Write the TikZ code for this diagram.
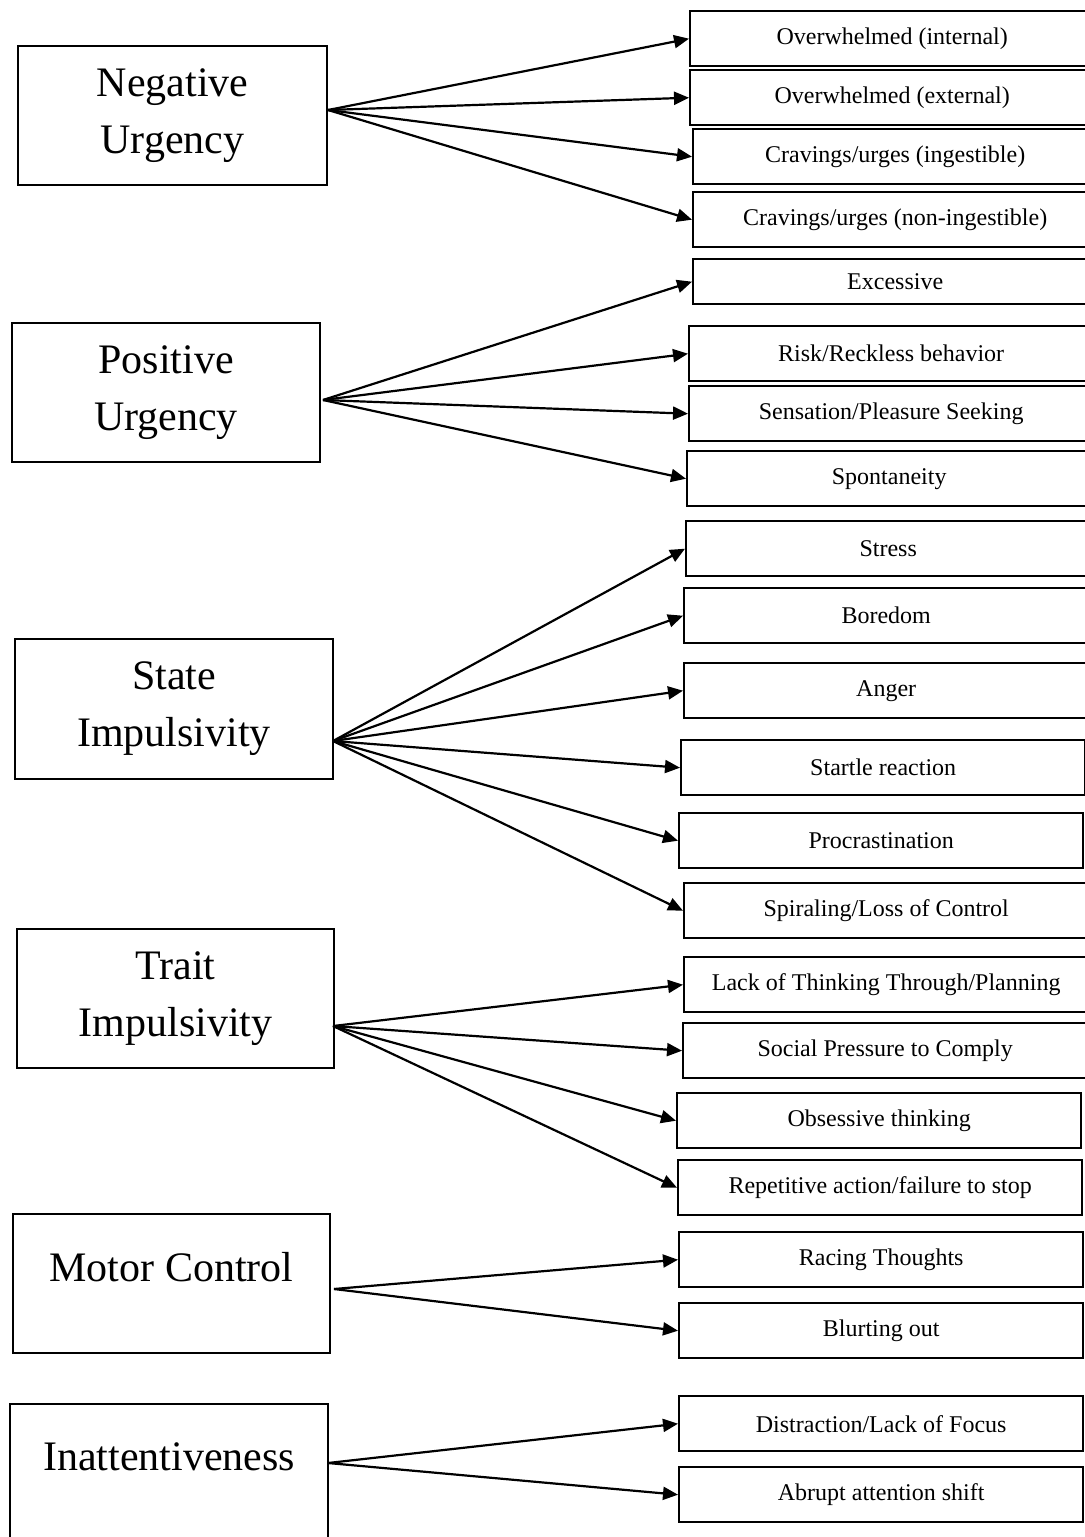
\documentclass[tikz,border=0pt]{standalone}
\usepackage{fontspec}
\setmainfont{Liberation Serif}
\usetikzlibrary{positioning,arrows.meta}

\newcommand\grande{\fontsize{21}{28.5}\selectfont}
\newcommand\chica{\fontsize{12}{14}\selectfont}

\begin{document}
\begin{tikzpicture}[x=0.5pt,y=-0.5pt,
    raiz/.style={draw,line width=1pt,anchor=north west,align=center,font=\grande,inner sep=0pt}, %cajas grandes de la izquierda
    hoja/.style={draw,line width=1.2pt,anchor=north west,font=\chica,minimum width=202pt,minimum height=27.5pt,inner sep=0pt}, %cajitas de la derecha
    flecha/.style={line width=1.1pt,-{Triangle[length=7.5pt,width=6.5pt]}}]
    %Recorte: la hoja mide lo mismo que la imagen (las cajas se salen por la derecha)
    \clip (0,0) rectangle (1085,1537);

    %Cajas de la izquierda (las grandes)
    \node[raiz,minimum width=154.5pt,minimum height=69.5pt] (neg) at (17,45) {Negative\\Urgency};
    \node[raiz,minimum width=154pt,minimum height=69.5pt] (pos) at (11,322) {Positive\\Urgency};
    \node[raiz,minimum width=159pt,minimum height=70pt] (state) at (14,638) {State\\Impulsivity};
    \node[raiz,minimum width=158.5pt,minimum height=69.5pt] (trait) at (16,928) {Trait\\Impulsivity};
    \node[raiz,minimum width=158.5pt,minimum height=69.5pt,label={[font=\grande,anchor=center,yshift=-27pt]north:Motor Control}] (motor) at (12,1213) {};
    \node[raiz,minimum width=159pt,minimum height=80pt,label={[font=\grande,anchor=center,yshift=-27pt]north:Inattentiveness}] (inatt) at (9,1403) {};

    %De donde salen los abanicos de flechas
    \coordinate (oNeg) at (328,110);
    \coordinate (oPos) at (323,400);
    \coordinate (oState) at (333,741);
    \coordinate (oTrait) at (333,1026);
    \coordinate (oMotor) at (334,1289);
    \coordinate (oInatt) at (328,1463);

    %Cajitas de la derecha
    \node[hoja] (ovint) at (689,10) {Overwhelmed (internal)};
    \node[hoja] (ovext) at (689,69) {Overwhelmed (external)};
    \node[hoja] (cravi) at (692,128) {Cravings/urges (ingestible)};
    \node[hoja] (cravn) at (692,191) {Cravings/urges (non-ingestible)};
    \node[hoja,minimum height=22.5pt] (exc) at (692,258) {Excessive};
    \node[hoja] (risk) at (688,325) {Risk/Reckless behavior};
    \node[hoja] (sens) at (688,385) {Sensation/Pleasure Seeking};
    \node[hoja] (spon) at (686,450) {Spontaneity};
    \node[hoja] (stress) at (685,520) {Stress};
    \node[hoja] (bored) at (683,587) {Boredom};
    \node[hoja] (anger) at (683,662) {Anger};
    \node[hoja] (startle) at (680,739) {Startle reaction};
    \node[hoja] (procr) at (678,812) {Procrastination};
    \node[hoja] (spiral) at (683,882) {Spiraling/Loss of Control};
    \node[hoja] (lack) at (683,956) {Lack of Thinking Through/Planning};
    \node[hoja] (social) at (682,1022) {Social Pressure to Comply};
    \node[hoja] (obsess) at (676,1092) {Obsessive thinking};
    \node[hoja] (repet) at (677,1159) {Repetitive action/failure to stop};
    \node[hoja] (racing) at (678,1231) {Racing Thoughts};
    \node[hoja] (blurt) at (678,1302) {Blurting out};
    \node[hoja] (distr) at (678,1395) {Distraction/Lack of Focus};
    \node[hoja] (abrupt) at (678,1466) {Abrupt attention shift};

    %Flechas
    \draw[flecha] (oNeg) -- (ovint.west);
    \draw[flecha] (oNeg) -- (ovext.west);
    \draw[flecha] (oNeg) -- (cravi.west);
    \draw[flecha] (oNeg) -- (cravn.west);

    \draw[flecha] (oPos) -- (exc.west);
    \draw[flecha] (oPos) -- (risk.west);
    \draw[flecha] (oPos) -- (sens.west);
    \draw[flecha] (oPos) -- (spon.west);

    \draw[flecha] (oState) -- (stress.west);
    \draw[flecha] (oState) -- (bored.west);
    \draw[flecha] (oState) -- (anger.west);
    \draw[flecha] (oState) -- (startle.west);
    \draw[flecha] (oState) -- (procr.west);
    \draw[flecha] (oState) -- (spiral.west);

    \draw[flecha] (oTrait) -- (lack.west);
    \draw[flecha] (oTrait) -- (social.west);
    \draw[flecha] (oTrait) -- (obsess.west);
    \draw[flecha] (oTrait) -- (repet.west);

    \draw[flecha] (oMotor) -- (racing.west);
    \draw[flecha] (oMotor) -- (blurt.west);

    \draw[flecha] (oInatt) -- (distr.west);
    \draw[flecha] (oInatt) -- (abrupt.west);
\end{tikzpicture}
\end{document}
